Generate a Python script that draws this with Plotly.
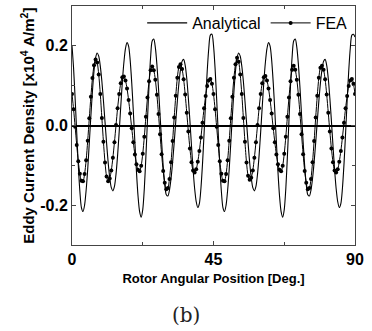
import plotly.graph_objects as go

# Rotor angular position samples [deg] (0.5 deg step, 0..90)
angle_step = 0.5
angles = [round(i * angle_step, 1) for i in range(181)]

# Analytical eddy current density [x10^4 A/m^2]
analytical = [
    0.201, 0.144, 0.067, -0.018, -0.099, -0.165, -0.206, -0.216, -0.200, -0.162,
    -0.109, -0.044, 0.024, 0.086, 0.137, 0.170, 0.182, 0.174, 0.149, 0.111,
    0.062, 0.009, -0.044, -0.093, -0.131, -0.156, -0.164, -0.153, -0.122, -0.075,
    -0.016, 0.047, 0.108, 0.158, 0.193, 0.208, 0.199, 0.164, 0.107, 0.036,
    -0.042, -0.116, -0.177, -0.216, -0.230, -0.211, -0.158, -0.078, 0.013, 0.101,
    0.172, 0.212, 0.217, 0.196, 0.153, 0.095, 0.027, -0.041, -0.102, -0.148,
    -0.174, -0.177, -0.162, -0.133, -0.092, -0.043, 0.010, 0.061, 0.106, 0.140,
    0.161, 0.166, 0.151, 0.118, 0.069, 0.011, -0.051, -0.109, -0.158, -0.191,
    -0.206, -0.196, -0.158, -0.097, -0.020, 0.062, 0.136, 0.194, 0.227, 0.229,
    0.201,
    0.144, 0.067, -0.018, -0.099, -0.165, -0.206, -0.216, -0.200, -0.162, -0.109,
    -0.044, 0.024, 0.086, 0.137, 0.170, 0.182, 0.174, 0.149, 0.111, 0.062,
    0.009, -0.044, -0.093, -0.131, -0.156, -0.164, -0.153, -0.122, -0.075, -0.016,
    0.047, 0.108, 0.158, 0.193, 0.208, 0.199, 0.164, 0.107, 0.036, -0.042,
    -0.116, -0.177, -0.216, -0.230, -0.211, -0.158, -0.078, 0.013, 0.101, 0.172,
    0.212, 0.217, 0.196, 0.153, 0.095, 0.027, -0.041, -0.102, -0.148, -0.174,
    -0.177, -0.162, -0.133, -0.092, -0.043, 0.010, 0.061, 0.106, 0.140, 0.161,
    0.166, 0.151, 0.118, 0.069, 0.011, -0.051, -0.109, -0.158, -0.191, -0.206,
    -0.196, -0.158, -0.097, -0.020, 0.062, 0.136, 0.194, 0.227, 0.229, 0.222,
]

# FEA eddy current density [x10^4 A/m^2]
fea = [
    0.079, 0.041, -0.003, -0.049, -0.090, -0.121, -0.139, -0.140, -0.122, -0.087,
    -0.038, 0.018, 0.072, 0.119, 0.151, 0.166, 0.158, 0.128, 0.079, 0.019,
    -0.041, -0.093, -0.128, -0.140, -0.133, -0.113, -0.081, -0.042, 0.001, 0.043,
    0.079, 0.106, 0.121, 0.123, 0.113, 0.093, 0.064, 0.030, -0.007, -0.042,
    -0.073, -0.097, -0.111, -0.115, -0.101, -0.071, -0.028, 0.022, 0.070, 0.111,
    0.139, 0.148, 0.139, 0.115, 0.077, 0.029, -0.022, -0.072, -0.114, -0.144,
    -0.160, -0.157, -0.134, -0.092, -0.039, 0.020, 0.075, 0.120, 0.147, 0.154,
    0.142, 0.116, 0.078, 0.032, -0.015, -0.058, -0.092, -0.113, -0.118, -0.110,
    -0.091, -0.064, -0.030, 0.007, 0.043, 0.074, 0.099, 0.113, 0.117, 0.105,
    0.079,
    0.041, -0.003, -0.049, -0.090, -0.121, -0.139, -0.140, -0.122, -0.087, -0.038,
    0.018, 0.072, 0.120, 0.154, 0.170, 0.160, 0.128, 0.079, 0.019, -0.041,
    -0.093, -0.126, -0.136, -0.131, -0.113, -0.081, -0.042, 0.001, 0.043, 0.079,
    0.106, 0.121, 0.124, 0.113, 0.093, 0.064, 0.030, -0.007, -0.042, -0.073,
    -0.097, -0.111, -0.115, -0.101, -0.071, -0.028, 0.022, 0.070, 0.111, 0.140,
    0.150, 0.140, 0.115, 0.077, 0.029, -0.022, -0.072, -0.114, -0.144, -0.160,
    -0.157, -0.134, -0.092, -0.039, 0.020, 0.075, 0.120, 0.145, 0.150, 0.140,
    0.116, 0.078, 0.032, -0.015, -0.058, -0.092, -0.113, -0.118, -0.110, -0.091,
    -0.064, -0.030, 0.007, 0.043, 0.074, 0.099, 0.113, 0.117, 0.105, 0.079,
]

x_ticks = [0, 45, 90]
y_ticks = [-0.2, 0.0, 0.2]
y_tick_labels = ["-0.2", "0.0", "0.2"]

FONT = "Liberation Sans, Arial, sans-serif"

fig = go.Figure()
fig.add_trace(go.Scatter(
    x=angles, y=analytical, name="Analytical", mode="lines",
    line=dict(color="black", width=1.1, shape="spline", smoothing=0.8),
))
fig.add_trace(go.Scatter(
    x=angles, y=fea, name="FEA", mode="lines+markers",
    line=dict(color="black", width=1, shape="spline", smoothing=0.8),
    marker=dict(color="black", size=4, symbol="circle"),
))

fig.update_layout(
    width=372, height=331,
    margin=dict(l=72, r=17, t=6, b=86),
    paper_bgcolor="white", plot_bgcolor="white",
    font=dict(family=FONT, color="black"),
    showlegend=True,
    legend=dict(
        orientation="h", x=0.99, xanchor="right", y=1.0, yanchor="top",
        bgcolor="rgba(0,0,0,0)", font=dict(size=16, family=FONT),
        itemwidth=40, tracegroupgap=0,
    ),
    xaxis=dict(
        range=[0, 90], tickmode="array", tickvals=x_ticks,
        ticktext=["<b>%d</b>" % v for v in x_ticks],
        tickfont=dict(size=16, family=FONT), ticks="inside", ticklen=4,
        tickcolor="#444", showline=True, linecolor="#444", linewidth=1,
        mirror="ticks", showgrid=False, zeroline=False,
        minor=dict(dtick=22.5, tick0=0, ticks="inside", ticklen=3, tickcolor="#444"),
        title=dict(text="<b>Rotor Angular Position [Deg.]</b>",
                   font=dict(size=13, family=FONT), standoff=6),
    ),
    yaxis=dict(
        range=[-0.3, 0.3], tickmode="array", tickvals=y_ticks,
        ticktext=["<b>%s</b>" % t for t in y_tick_labels],
        tickfont=dict(size=16, family=FONT), ticks="inside", ticklen=4,
        tickcolor="#444", showline=True, linecolor="#444", linewidth=1,
        mirror="ticks", showgrid=False,
        zeroline=True, zerolinecolor="black", zerolinewidth=2,
        minor=dict(dtick=0.1, tick0=0, ticks="inside", ticklen=3, tickcolor="#444"),
    ),
)

# Y-axis title placed as a rotated annotation for precise positioning
fig.add_annotation(
    text="<b>Eddy Current Density [x10<sup>4</sup> A/m<sup>2</sup>]</b>",
    xref="paper", yref="paper", x=-0.158, y=0.5, textangle=-90,
    xanchor="center", yanchor="middle", showarrow=False,
    font=dict(size=15, family=FONT, color="black"),
)

fig.add_annotation(
    text="(b)", xref="paper", yref="paper", x=0.4035, y=-0.293,
    xanchor="center", yanchor="middle", showarrow=False,
    font=dict(size=20, family="DejaVu Serif, serif", color="#222"),
)

fig.write_html("out.html")
